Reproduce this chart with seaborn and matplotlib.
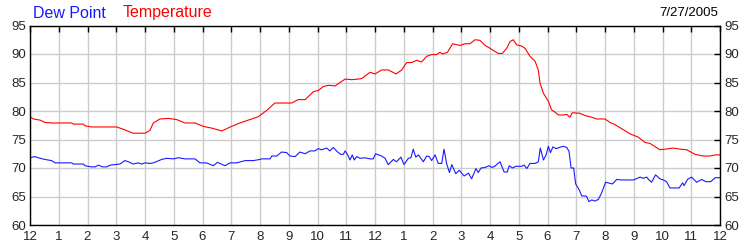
import matplotlib
matplotlib.use("Agg")
import matplotlib.pyplot as plt
import seaborn as sns
import pandas as pd

# ---- data (hours since midnight, degrees F) ----
temp_hours = [0, 0.12, 0.35, 0.52, 0.75, 1.45, 1.51, 1.86, 1.91, 2.14, 3.01, 3.19, 3.59, 4.0,
              4.17, 4.29, 4.52, 4.81, 5.1, 5.39, 5.74, 6.03, 6.32, 6.67, 7.01, 7.3, 7.65, 7.94,
              8.1, 8.23, 8.52, 9.1, 9.33, 9.57, 9.86, 10.03, 10.2, 10.38, 10.61, 10.96, 11.19,
              11.42, 11.54, 11.83, 12.0, 12.23, 12.46, 12.58, 12.73, 12.93, 13.1, 13.28, 13.45,
              13.62, 13.8, 13.97, 14.14, 14.26, 14.35, 14.52, 14.7, 14.96, 15.13, 15.3, 15.48,
              15.65, 15.83, 16.0, 16.12, 16.29, 16.43, 16.58, 16.7, 16.81, 16.93, 17.1, 17.22,
              17.39, 17.57, 17.68, 17.74, 17.86, 18.03, 18.14, 18.26, 18.38, 18.55, 18.67, 18.78,
              18.86, 19.13, 19.3, 19.54, 19.71, 20.0, 20.17, 20.35, 20.87, 21.16, 21.39, 21.57,
              21.91, 22.09, 22.38, 22.61, 22.84, 23.13, 23.42, 23.65, 23.83, 24.0]
temperature = [79.0, 78.6, 78.4, 78.0, 77.9, 77.9, 77.7, 77.7, 77.4, 77.2, 77.2, 76.9, 76.1, 76.1,
               76.6, 77.9, 78.6, 78.7, 78.5, 77.9, 77.9, 77.3, 77.0, 76.5, 77.3, 77.9, 78.5, 79.0,
               79.6, 80.1, 81.4, 81.4, 82.0, 82.0, 83.4, 83.6, 84.3, 84.5, 84.4, 85.6, 85.5,
               85.6, 85.7, 86.8, 86.5, 87.2, 87.2, 86.9, 86.5, 87.2, 88.5, 88.5, 88.9,
               88.6, 89.6, 89.9, 89.9, 90.3, 90.0, 90.3, 91.8, 91.5, 91.8, 91.8, 92.5,
               92.4, 91.5, 91.0, 90.6, 90.1, 90.1, 91.0, 92.2, 92.5, 91.6, 91.4, 91.0,
               89.6, 88.7, 87.2, 84.9, 83.1, 81.7, 80.2, 79.8, 79.3, 79.3, 79.4, 78.9,
               79.7, 79.6, 79.2, 78.9, 78.6, 78.6, 78.0, 77.6, 76.0, 75.4, 74.5, 74.3,
               73.2, 73.3, 73.5, 73.3, 73.2, 72.4, 72.1, 72.1, 72.3, 72.3]

dew_hours = [0, 0.17, 0.35, 0.52, 0.75, 0.87, 1.45, 1.51, 1.86, 1.91, 2.14, 2.26, 2.38, 2.52,
             2.67, 2.78, 3.13, 3.3, 3.42, 3.59, 3.77, 3.88, 4.0, 4.17, 4.29, 4.58, 4.75, 4.99,
             5.16, 5.39, 5.74, 5.91, 6.14, 6.38, 6.52, 6.78, 6.96, 7.19, 7.48, 7.77, 8.0,
             8.06, 8.35, 8.41, 8.58, 8.75, 8.93, 9.04, 9.22, 9.39, 9.57, 9.74, 9.91, 10.03,
             10.14, 10.32, 10.43, 10.55, 10.7, 10.81, 10.9, 10.96, 11.05, 11.13, 11.21, 11.28,
             11.36, 11.48, 11.65, 11.83, 11.94, 12.02, 12.17, 12.23, 12.35, 12.46, 12.64, 12.75,
             12.9, 13.01, 13.16, 13.25, 13.33, 13.42, 13.51, 13.68, 13.8, 13.89, 13.97, 14.09,
             14.2, 14.32, 14.4, 14.49, 14.59, 14.67, 14.81, 14.93, 15.1, 15.25, 15.36, 15.51,
             15.59, 15.69, 15.83, 15.97, 16.06, 16.17, 16.23, 16.35, 16.49, 16.6, 16.67, 16.78,
             16.9, 17.1, 17.19, 17.28, 17.39, 17.57, 17.68, 17.75, 17.86, 17.95, 18.03, 18.1,
             18.19, 18.3, 18.41, 18.55, 18.67, 18.75, 18.82, 18.91, 18.98, 19.1, 19.19, 19.3,
             19.36, 19.44, 19.54, 19.65, 19.77, 19.88, 20.02, 20.17, 20.26, 20.41, 20.58, 20.99,
             21.22, 21.33, 21.45, 21.53, 21.62, 21.76, 21.91, 22.03, 22.14, 22.26, 22.58, 22.7,
             22.75, 22.87, 23.01, 23.19, 23.36, 23.51, 23.68, 23.83, 24.0]
dew_point = [71.8, 72.0, 71.7, 71.5, 71.3, 70.9, 70.9, 70.7, 70.7, 70.4, 70.2, 70.2, 70.5, 70.2,
             70.2, 70.5, 70.7, 71.3, 71.1, 70.7, 70.9, 70.7, 70.9, 70.8, 70.9, 71.5, 71.7, 71.6,
             71.8, 71.6, 71.6, 70.9, 70.9, 70.4, 71.0, 70.4, 70.9, 70.9, 71.3, 71.3, 71.5,
             71.6, 71.6, 72.1, 72.1, 72.8, 72.7, 72.1, 72.0, 72.8, 72.5, 73.0, 73.0, 73.4,
             73.2, 73.5, 73.0, 73.6, 72.8, 72.4, 72.4, 73.0, 72.3, 71.4, 72.3, 71.4,
             72.0, 71.7, 71.8, 71.6, 71.6, 72.5, 72.2, 72.1, 71.7, 70.6, 71.5, 71.1,
             71.9, 70.6, 71.7, 71.8, 73.3, 71.9, 72.3, 71.1, 72.1, 72.0, 71.3, 72.3,
             70.8, 70.8, 73.3, 70.8, 69.2, 70.6, 69.0, 69.6, 68.6, 69.1, 68.1, 69.9,
             69.2, 70.0, 70.1, 70.4, 70.1, 70.3, 70.6, 71.1, 69.3, 69.3, 70.4, 70.0,
             70.3, 70.3, 70.5, 69.9, 70.8, 70.8, 71.1, 73.5, 71.4, 72.3, 73.8, 72.7,
             73.7, 73.4, 73.6, 73.8, 73.6, 72.9, 70.0, 70.0, 67.2, 66.2, 65.1, 65.1,
             65.0, 64.1, 64.4, 64.2, 64.5, 65.6, 67.5, 67.3, 67.2, 68.0, 67.9, 67.9,
             68.4, 68.2, 68.4, 67.9, 67.5, 68.8, 68.1, 67.9, 67.6, 66.5, 66.5, 67.4,
             66.9, 68.0, 68.4, 67.5, 68.0, 67.6, 67.6, 68.3, 68.3]

tick_hours = list(range(0, 25))
tick_labels = ["12", "1", "2", "3", "4", "5", "6", "7", "8", "9", "10", "11",
               "12", "1", "2", "3", "4", "5", "6", "7", "8", "9", "10", "11", "12"]
y_ticks = [60, 65, 70, 75, 80, 85, 90, 95]
series_names = ["Dew Point", "Temperature"]
series_colors = ["#1a1aff", "#ff0000"]
date_label = "7/27/2005"

sns.set_style("white")
plt.rcParams["font.family"] = ["Liberation Sans", "DejaVu Sans"]

df = pd.concat([
    pd.DataFrame({"hour": dew_hours, "value": dew_point, "series": series_names[0]}),
    pd.DataFrame({"hour": temp_hours, "value": temperature, "series": series_names[1]}),
])

fig = plt.figure(figsize=(7.5, 2.5), dpi=100)
ax = fig.add_axes([30 / 750, 25 / 250, 690 / 750, 199.5 / 250])
sns.lineplot(data=df, x="hour", y="value", hue="series", palette=series_colors,
             hue_order=series_names, ax=ax, linewidth=0.8, legend=False, sort=True)

ax.set_xlim(0, 24)
ax.set_ylim(60, 95)
ax.set_xticks(tick_hours)
ax.set_xticklabels(tick_labels)
ax.set_yticks(y_ticks)
ax.set_xlabel("")
ax.set_ylabel("")
ax.grid(True, color="#cccccc", linewidth=1.0)
ax.set_axisbelow(True)
for s in ax.spines.values():
    s.set_color("black")
    s.set_linewidth(1.0)
ax.tick_params(axis="both", direction="in", length=4, width=1, color="black",
               labelsize=9.5, top=True, right=True, labelright=True, pad=3)
ax.tick_params(axis="x", pad=4)

fig.text(33 / 750, 1 - 13 / 250, series_names[0], color=series_colors[0],
         fontsize=11.5, ha="left", va="center")
fig.text(123 / 750, 1 - 13 / 250, series_names[1], color=series_colors[1],
         fontsize=11.5, ha="left", va="center")
fig.text(718 / 750, 1 - 13 / 250, date_label, color="black",
         fontsize=9.5, ha="right", va="center")

fig.savefig("out.png", dpi=100)
